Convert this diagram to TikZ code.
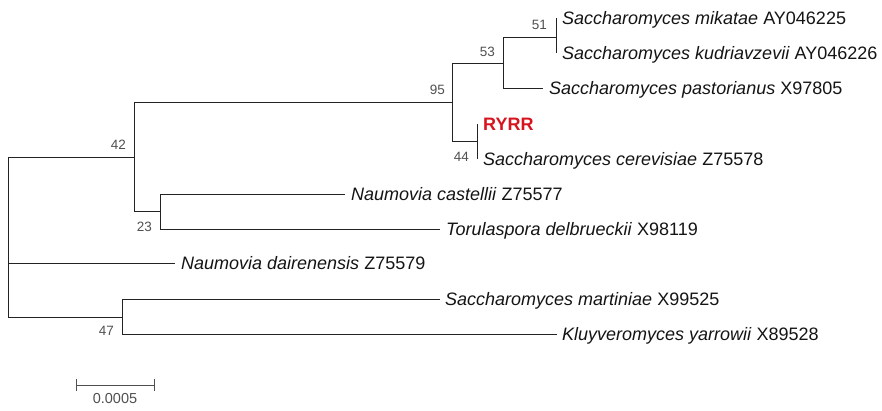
\documentclass[tikz,border=0pt]{standalone}
\usepackage{fontspec}
\setmainfont{Liberation Sans}
\definecolor{branch}{RGB}{35,35,35}
\definecolor{leaftext}{RGB}{20,20,20}
\definecolor{boottext}{RGB}{80,80,80}
\definecolor{strainred}{RGB}{215,20,30}
\tikzset{
  edge/.style={draw=branch, line width=0.9pt},
  leaf/.style={anchor=west, inner sep=0pt, xshift=6pt, text height=13pt, text depth=0pt,
    text=leaftext, font=\fontsize{18}{20}\selectfont},
  boot/.style={anchor=east, inner sep=0pt, text height=9.7pt, text depth=0pt,
    text=boottext, font=\fontsize{13.5}{15}\selectfont},
}
\begin{document}
\begin{tikzpicture}[x=1pt, y=-1pt]
\useasboundingbox (0,0) rectangle (882,410);

% internal nodes (junction on the vertical bar, at the height of the incoming branch)
\coordinate (root) at (8.5,237);
\coordinate (n42) at (134,157);
\coordinate (n95) at (452,102);
\coordinate (n53) at (503,63);
\coordinate (n51) at (556,37);
\coordinate (n44) at (477,141);
\coordinate (n23) at (160,211);
\coordinate (n47) at (122,317);

% leaf tips
\coordinate (tMik) at (556,18);
\coordinate (tKud) at (556,53);
\coordinate (tPas) at (543,88);
\coordinate (tRYR) at (477,124);
\coordinate (tCer) at (477,159);
\coordinate (tCas) at (345,194);
\coordinate (tTor) at (440,229);
\coordinate (tDai) at (175,263);
\coordinate (tMar) at (440,299);
\coordinate (tYar) at (557,334);

% branches
\draw[edge] (root) |- (n42);
\draw[edge] (root) |- (tDai);
\draw[edge] (root) |- (n47);
\draw[edge] (n42) |- (n95);
\draw[edge] (n42) |- (n23);
\draw[edge] (n95) |- (n53);
\draw[edge] (n95) |- (n44);
\draw[edge] (n53) |- (n51);
\draw[edge] (n53) |- (tPas);
\draw[edge] (n51) |- (tMik);
\draw[edge] (n51) |- (tKud);
\draw[edge] (n44) |- (tRYR);
\draw[edge] (n44) |- (tCer);
\draw[edge] (n23) |- (tCas);
\draw[edge] (n23) |- (tTor);
\draw[edge] (n47) |- (tMar);
\draw[edge] (n47) |- (tYar);
% heavier stretch of the root bar
\coordinate (rootA) at (8.5,210);
\draw[edge, line width=1.8pt] (rootA) -- (root |- tDai);

% taxon labels
\node[leaf] (lMik) at (tMik) {\textit{Saccharomyces mikatae} AY046225};
\node[leaf] (lKud) at (tKud) {\textit{Saccharomyces kudriavzevii} AY046226};
\node[leaf] (lPas) at (tPas) {\textit{Saccharomyces pastorianus} X97805};
\node[leaf, text=strainred, font=\fontsize{18}{20}\selectfont\bfseries] (lRYR) at (tRYR) {RYRR};
\node[leaf] (lCer) at (tCer) {\textit{Saccharomyces cerevisiae} Z75578};
\node[leaf] (lCas) at (tCas) {\textit{Naumovia castellii} Z75577};
\node[leaf] (lTor) at (tTor) {\textit{Torulaspora delbrueckii} X98119};
\node[leaf] (lDai) at (tDai) {\textit{Naumovia dairenensis} Z75579};
\node[leaf, xshift=-1pt] (lMar) at (tMar) {\textit{Saccharomyces martiniae} X99525};
\node[leaf, xshift=-1pt] (lYar) at (tYar) {\textit{Kluyveromyces yarrowii} X89528};

% bootstrap values
\node[boot, xshift=-9pt, yshift=12pt] (b51) at (n51) {51};
\node[boot, xshift=-8pt, yshift=11pt] (b53) at (n53) {53};
\node[boot, xshift=-7pt, yshift=12pt] (b95) at (n95) {95};
\node[boot, xshift=-8pt, yshift=-16pt] (b44) at (n44) {44};
\node[boot, xshift=-8pt, yshift=12pt] (b42) at (n42) {42};
\node[boot, xshift=-8pt, yshift=-16pt] (b23) at (n23) {23};
\node[boot, xshift=-8pt, yshift=-14pt] (b47) at (n47) {47};

% scale bar
\coordinate (sbL) at (76,385);
\coordinate (sbR) at (154,385);
\draw[edge, draw=boottext] (sbL) -- (sbR);
\draw[edge, draw=boottext] ([yshift=6pt]sbL) -- ([yshift=-6pt]sbL);
\draw[edge, draw=boottext] ([yshift=6pt]sbR) -- ([yshift=-6pt]sbR);
\node[boot, anchor=center, font=\fontsize{14.5}{16}\selectfont] (sbLabel) at (115,399) {0.0005};
\end{tikzpicture}
\end{document}
